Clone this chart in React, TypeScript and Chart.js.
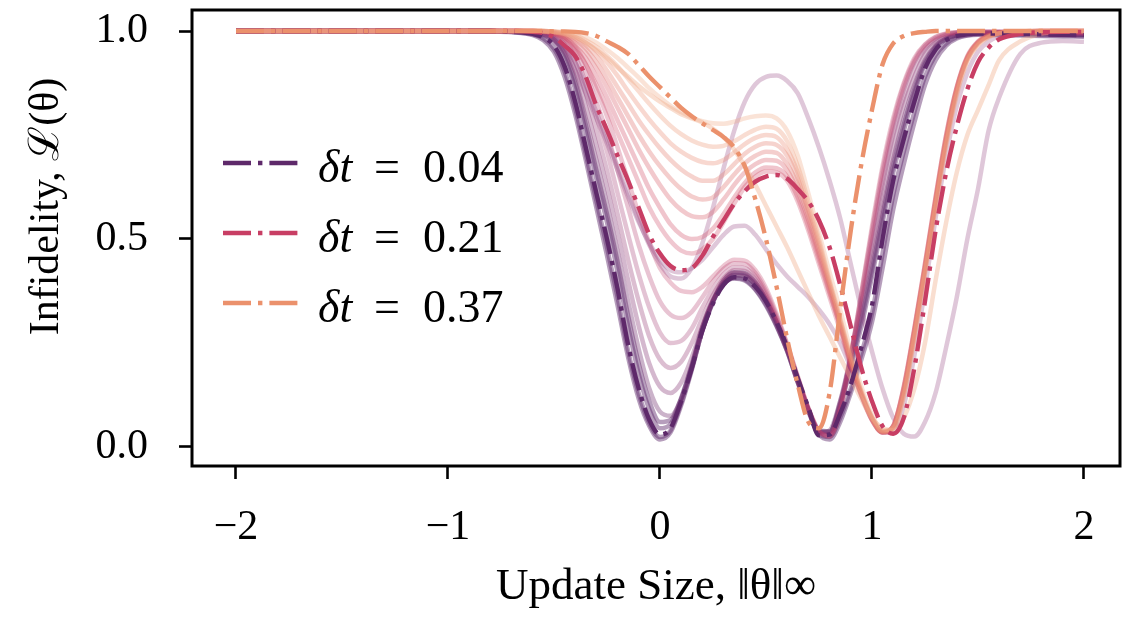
import React, { useEffect, useRef } from "react";
import { Chart, registerables } from "chart.js";

Chart.register(...registerables);

// x positions shared by every curve (Update Size)
const xGrid = [
  -2.0, -1.5, -1.0, -0.8, -0.7,
  -0.6, -0.55, -0.5, -0.45, -0.4, -0.35, -0.3, -0.25, -0.2, -0.15, -0.1, -0.05,
  0, 0.05, 0.1, 0.15, 0.2, 0.25, 0.3, 0.35, 0.4, 0.45, 0.5, 0.55,
  0.6, 0.65, 0.7, 0.75, 0.8, 0.85, 0.9, 0.95, 1.0, 1.05, 1.1, 1.15,
  1.2, 1.25, 1.3, 1.35, 1.4, 1.45, 1.5, 1.55, 1.6,
  1.7, 1.8, 1.9, 2.0,
];

const xTickValues = [-2, -1, 0, 1, 2];
const yTickValues = [0, 0.5, 1];
const legendDt = ["0.04", "0.21", "0.37"];

// highlighted dash-dot curves
const dt004 = [
  1, 1, 1, 1, 0.998,
  0.993, 0.985, 0.965, 0.915, 0.83, 0.72, 0.61, 0.5, 0.38, 0.245, 0.14, 0.065,
  0.03, 0.045, 0.11, 0.19, 0.28, 0.345, 0.39, 0.408, 0.405, 0.385, 0.35, 0.3,
  0.24, 0.165, 0.095, 0.028, 0.03, 0.08, 0.15, 0.24, 0.34, 0.5, 0.64, 0.74,
  0.83, 0.91, 0.955, 0.978, 0.988, 0.992, 0.994, 0.994, 0.994,
  0.993, 0.992, 0.991, 0.99,
];
const dt021 = [
  1, 1, 1, 1, 1,
  0.998, 0.995, 0.985, 0.965, 0.94, 0.89, 0.82, 0.762, 0.7, 0.64, 0.575, 0.51,
  0.465, 0.435, 0.425, 0.43, 0.46, 0.505, 0.545, 0.585, 0.615, 0.638, 0.65, 0.654,
  0.645, 0.62, 0.59, 0.545, 0.48, 0.39, 0.29, 0.19, 0.11, 0.05, 0.032, 0.07,
  0.19, 0.35, 0.52, 0.66, 0.77, 0.86, 0.925, 0.96, 0.98,
  0.993, 0.997, 0.998, 0.998,
];
const dt037 = [
  1, 1, 1, 1, 1,
  1, 1, 0.999, 0.999, 0.998, 0.995, 0.988, 0.975, 0.962, 0.945, 0.918, 0.89,
  0.865, 0.84, 0.815, 0.795, 0.778, 0.762, 0.745, 0.72, 0.675, 0.595, 0.5, 0.385,
  0.26, 0.15, 0.06, 0.045, 0.13, 0.33, 0.52, 0.68, 0.81, 0.92, 0.97, 0.988,
  0.995, 0.998, 1, 1, 1, 1, 1, 1, 1,
  1, 1, 1, 1,
];

// faded solid curves (other time steps)
const darkA = [
  1, 1, 1, 0.999, 0.997,
  0.99, 0.978, 0.95, 0.89, 0.8, 0.69, 0.575, 0.46, 0.34, 0.215, 0.115, 0.05,
  0.018, 0.035, 0.1, 0.185, 0.28, 0.35, 0.4, 0.42, 0.418, 0.395, 0.355, 0.3,
  0.235, 0.16, 0.088, 0.03, 0.018, 0.06, 0.13, 0.21, 0.3, 0.43, 0.57, 0.68,
  0.78, 0.87, 0.93, 0.965, 0.982, 0.989, 0.991, 0.991, 0.99,
  0.989, 0.988, 0.987, 0.986,
];
const darkC = [
  1, 1, 1, 1, 0.998,
  0.992, 0.982, 0.958, 0.903, 0.815, 0.705, 0.592, 0.48, 0.36, 0.23, 0.128, 0.057,
  0.024, 0.04, 0.105, 0.188, 0.28, 0.348, 0.395, 0.414, 0.412, 0.39, 0.352, 0.3,
  0.238, 0.162, 0.09, 0.03, 0.024, 0.07, 0.14, 0.225, 0.32, 0.465, 0.605, 0.71,
  0.805, 0.89, 0.942, 0.97, 0.985, 0.99, 0.992, 0.992, 0.992,
  0.991, 0.99, 0.989, 0.988,
];
const darkB = [
  1, 1, 1, 1, 0.999,
  0.996, 0.99, 0.975, 0.935, 0.86, 0.755, 0.645, 0.54, 0.42, 0.29, 0.175, 0.09,
  0.045, 0.055, 0.115, 0.195, 0.285, 0.35, 0.392, 0.405, 0.4, 0.378, 0.34, 0.29,
  0.23, 0.155, 0.09, 0.04, 0.038, 0.1, 0.19, 0.29, 0.41, 0.54, 0.66, 0.76,
  0.85, 0.92, 0.96, 0.98, 0.99, 0.994, 0.995, 0.995, 0.995,
  0.994, 0.993, 0.992, 0.991,
];
const darkD = [
  1, 1, 1, 1, 0.999,
  0.997, 0.992, 0.98, 0.945, 0.875, 0.775, 0.665, 0.56, 0.445, 0.315, 0.2, 0.11,
  0.06, 0.065, 0.118, 0.198, 0.288, 0.352, 0.393, 0.406, 0.402, 0.38, 0.343, 0.292,
  0.232, 0.157, 0.09, 0.038, 0.036, 0.105, 0.2, 0.305, 0.425, 0.555, 0.675, 0.775,
  0.86, 0.925, 0.963, 0.982, 0.991, 0.994, 0.995, 0.995, 0.995,
  0.994, 0.993, 0.992, 0.991,
];
const mauve1 = [
  1, 1, 1, 1, 0.999,
  0.997, 0.992, 0.98, 0.95, 0.885, 0.79, 0.69, 0.585, 0.47, 0.35, 0.235, 0.14,
  0.085, 0.075, 0.115, 0.19, 0.28, 0.35, 0.395, 0.412, 0.41, 0.39, 0.35, 0.295,
  0.23, 0.155, 0.085, 0.035, 0.04, 0.11, 0.21, 0.32, 0.44, 0.57, 0.69, 0.79,
  0.87, 0.93, 0.965, 0.982, 0.99, 0.994, 0.995, 0.995, 0.995,
  0.994, 0.993, 0.992, 0.992,
];
const mauve2 = [
  1, 1, 1, 1, 1,
  0.998, 0.994, 0.985, 0.96, 0.905, 0.82, 0.725, 0.625, 0.515, 0.4, 0.29, 0.2,
  0.145, 0.13, 0.155, 0.215, 0.29, 0.355, 0.4, 0.418, 0.415, 0.395, 0.355, 0.3,
  0.235, 0.16, 0.088, 0.035, 0.035, 0.11, 0.22, 0.34, 0.47, 0.6, 0.72, 0.82,
  0.89, 0.945, 0.972, 0.986, 0.992, 0.995, 0.996, 0.996, 0.996,
  0.995, 0.994, 0.993, 0.993,
];
const mauve3 = [
  1, 1, 1, 1, 1,
  0.999, 0.996, 0.988, 0.968, 0.925, 0.85, 0.76, 0.665, 0.56, 0.45, 0.35, 0.265,
  0.21, 0.19, 0.205, 0.25, 0.31, 0.365, 0.405, 0.425, 0.423, 0.402, 0.362, 0.305,
  0.238, 0.162, 0.09, 0.036, 0.03, 0.1, 0.22, 0.35, 0.49, 0.63, 0.75, 0.84,
  0.91, 0.955, 0.978, 0.99, 0.995, 0.997, 0.997, 0.997, 0.997,
  0.996, 0.995, 0.994, 0.994,
];
const mauve4 = [
  1, 1, 1, 1, 1,
  0.999, 0.997, 0.99, 0.975, 0.94, 0.875, 0.795, 0.71, 0.61, 0.51, 0.415, 0.335,
  0.275, 0.25, 0.255, 0.285, 0.335, 0.38, 0.415, 0.432, 0.43, 0.41, 0.368, 0.31,
  0.242, 0.165, 0.092, 0.037, 0.028, 0.095, 0.22, 0.36, 0.51, 0.65, 0.77, 0.86,
  0.925, 0.962, 0.982, 0.992, 0.996, 0.997, 0.998, 0.998, 0.998,
  0.997, 0.996, 0.995, 0.995,
];
const mauve5 = [
  1, 1, 1, 1, 1,
  1, 0.998, 0.993, 0.98, 0.952, 0.9, 0.83, 0.755, 0.665, 0.575, 0.485, 0.41,
  0.35, 0.318, 0.31, 0.325, 0.36, 0.398, 0.428, 0.442, 0.44, 0.418, 0.375, 0.315,
  0.245, 0.168, 0.093, 0.038, 0.026, 0.09, 0.22, 0.37, 0.52, 0.665, 0.78, 0.87,
  0.93, 0.966, 0.985, 0.993, 0.997, 0.998, 0.998, 0.998, 0.998,
  0.997, 0.996, 0.995, 0.995,
];
const mauve6 = [
  1, 1, 1, 1, 1,
  1, 0.998, 0.994, 0.984, 0.962, 0.92, 0.86, 0.795, 0.72, 0.64, 0.56, 0.49,
  0.43, 0.395, 0.375, 0.372, 0.385, 0.41, 0.435, 0.45, 0.448, 0.425, 0.382, 0.32,
  0.248, 0.17, 0.094, 0.038, 0.025, 0.085, 0.215, 0.37, 0.53, 0.675, 0.79, 0.875,
  0.935, 0.968, 0.986, 0.994, 0.997, 0.998, 0.998, 0.998, 0.998,
  0.997, 0.996, 0.995, 0.995,
];
const purpleLow = [
  1, 1, 1, 1, 1,
  0.998, 0.992, 0.978, 0.95, 0.905, 0.85, 0.79, 0.73, 0.665, 0.6, 0.54, 0.49,
  0.45, 0.425, 0.42, 0.43, 0.45, 0.48, 0.51, 0.53, 0.532, 0.51, 0.475, 0.44,
  0.41, 0.385, 0.36, 0.33, 0.295, 0.25, 0.19, 0.125, 0.07, 0.035, 0.035, 0.1,
  0.22, 0.38, 0.55, 0.7, 0.82, 0.9, 0.95, 0.975, 0.988,
  0.996, 0.998, 0.998, 0.998,
];
const purpleHigh = [
  1, 1, 1, 1, 0.999,
  0.998, 0.994, 0.983, 0.96, 0.925, 0.87, 0.805, 0.74, 0.675, 0.61, 0.545, 0.485,
  0.44, 0.41, 0.405, 0.43, 0.49, 0.575, 0.67, 0.76, 0.83, 0.872, 0.89, 0.893,
  0.88, 0.85, 0.79, 0.72, 0.64, 0.55, 0.44, 0.33, 0.23, 0.14, 0.07, 0.032,
  0.025, 0.06, 0.13, 0.24, 0.36, 0.5, 0.62, 0.76, 0.84,
  0.945, 0.972, 0.976, 0.974,
];
const light0 = [
  1, 1, 1, 1, 1,
  1, 0.998, 0.993, 0.98, 0.957, 0.92, 0.87, 0.815, 0.755, 0.695, 0.635, 0.575,
  0.53, 0.495, 0.472, 0.465, 0.475, 0.5, 0.54, 0.585, 0.625, 0.65, 0.662, 0.66,
  0.64, 0.59, 0.52, 0.44, 0.36, 0.28, 0.195, 0.122, 0.064, 0.035, 0.05, 0.145,
  0.285, 0.44, 0.6, 0.75, 0.865, 0.938, 0.974, 0.989, 0.996,
  0.999, 1, 1, 1,
];
const light1 = [
  1, 1, 1, 1, 1,
  1, 0.999, 0.995, 0.985, 0.965, 0.935, 0.89, 0.84, 0.785, 0.73, 0.675, 0.62,
  0.575, 0.535, 0.51, 0.5, 0.505, 0.525, 0.56, 0.6, 0.635, 0.66, 0.672, 0.67,
  0.65, 0.6, 0.53, 0.45, 0.37, 0.29, 0.2, 0.125, 0.065, 0.035, 0.05, 0.14,
  0.28, 0.43, 0.59, 0.74, 0.86, 0.935, 0.972, 0.988, 0.995,
  0.999, 1, 1, 1,
];
const light2 = [
  1, 1, 1, 1, 1,
  1, 0.999, 0.996, 0.988, 0.972, 0.948, 0.91, 0.865, 0.815, 0.765, 0.715, 0.67,
  0.63, 0.595, 0.57, 0.555, 0.552, 0.565, 0.595, 0.63, 0.66, 0.68, 0.69, 0.688,
  0.665, 0.615, 0.545, 0.46, 0.375, 0.29, 0.2, 0.125, 0.065, 0.035, 0.05, 0.145,
  0.285, 0.44, 0.6, 0.75, 0.865, 0.94, 0.975, 0.99, 0.996,
  0.999, 1, 1, 1,
];
const light3 = [
  1, 1, 1, 1, 1,
  1, 0.999, 0.997, 0.99, 0.978, 0.958, 0.925, 0.885, 0.84, 0.795, 0.75, 0.71,
  0.675, 0.645, 0.62, 0.602, 0.595, 0.6, 0.625, 0.655, 0.682, 0.7, 0.71, 0.707,
  0.68, 0.63, 0.555, 0.47, 0.385, 0.295, 0.205, 0.128, 0.067, 0.036, 0.05, 0.14,
  0.28, 0.435, 0.595, 0.745, 0.862, 0.937, 0.973, 0.989, 0.996,
  0.999, 1, 1, 1,
];
const light4 = [
  1, 1, 1, 1, 1,
  1, 1, 0.998, 0.992, 0.982, 0.965, 0.94, 0.905, 0.865, 0.825, 0.785, 0.75,
  0.718, 0.69, 0.667, 0.65, 0.64, 0.64, 0.655, 0.68, 0.705, 0.722, 0.73, 0.726,
  0.7, 0.645, 0.565, 0.48, 0.39, 0.3, 0.21, 0.13, 0.068, 0.036, 0.048, 0.135,
  0.275, 0.43, 0.59, 0.74, 0.86, 0.935, 0.972, 0.988, 0.995,
  0.999, 1, 1, 1,
];
const light5 = [
  1, 1, 1, 1, 1,
  1, 1, 0.998, 0.994, 0.986, 0.972, 0.952, 0.925, 0.892, 0.855, 0.82, 0.787,
  0.757, 0.73, 0.71, 0.695, 0.685, 0.682, 0.69, 0.708, 0.728, 0.743, 0.75, 0.745,
  0.715, 0.66, 0.575, 0.49, 0.395, 0.305, 0.212, 0.132, 0.07, 0.037, 0.046, 0.13,
  0.27, 0.425, 0.585, 0.735, 0.855, 0.932, 0.97, 0.987, 0.995,
  0.999, 1, 1, 1,
];
const light6 = [
  1, 1, 1, 1, 1,
  1, 1, 0.999, 0.996, 0.99, 0.978, 0.962, 0.94, 0.915, 0.885, 0.855, 0.825,
  0.797, 0.772, 0.752, 0.737, 0.727, 0.722, 0.724, 0.735, 0.75, 0.763, 0.77, 0.765,
  0.735, 0.675, 0.59, 0.5, 0.4, 0.31, 0.215, 0.135, 0.072, 0.038, 0.045, 0.125,
  0.265, 0.42, 0.58, 0.73, 0.85, 0.93, 0.968, 0.986, 0.994,
  0.999, 1, 1, 1,
];
const light7 = [
  1, 1, 1, 1, 1,
  1, 1, 0.999, 0.997, 0.993, 0.985, 0.972, 0.955, 0.935, 0.912, 0.888, 0.862,
  0.84, 0.82, 0.805, 0.792, 0.783, 0.778, 0.777, 0.782, 0.79, 0.795, 0.797, 0.79,
  0.76, 0.7, 0.61, 0.515, 0.42, 0.33, 0.23, 0.145, 0.078, 0.04, 0.045, 0.12,
  0.26, 0.415, 0.575, 0.725, 0.845, 0.928, 0.966, 0.985, 0.994,
  0.999, 1, 1, 1,
];
const peach = [
  1, 1, 1, 1, 1,
  1, 0.999, 0.997, 0.993, 0.985, 0.972, 0.955, 0.935, 0.912, 0.89, 0.868, 0.848,
  0.83, 0.815, 0.8, 0.79, 0.78, 0.765, 0.745, 0.715, 0.675, 0.63, 0.58, 0.53,
  0.48, 0.425, 0.37, 0.315, 0.265, 0.215, 0.165, 0.115, 0.07, 0.045, 0.04, 0.07,
  0.14, 0.25, 0.4, 0.54, 0.66, 0.75, 0.81, 0.87, 0.93,
  0.975, 0.993, 0.998, 1,
];

const FONT = '"Liberation Serif", "Times New Roman", serif';

const toPoints = (ys: number[]) => xGrid.map((x, i) => ({ x, y: ys[i] }));

// drawOrder: lower values are painted on top (largest time step uppermost)
const highlighted = [
  { ys: dt004, color: "rgb(94,41,106)", label: legendDt[0], drawOrder: -1 },
  { ys: dt021, color: "rgb(200,62,100)", label: legendDt[1], drawOrder: -2 },
  { ys: dt037, color: "rgb(235,145,108)", label: legendDt[2], drawOrder: -3 },
];

const faded = [
  { ys: light7, color: "rgba(238,168,130,0.32)" },
  { ys: peach, color: "rgba(240,172,138,0.4)" },
  { ys: light6, color: "rgba(236,150,116,0.32)" },
  { ys: light5, color: "rgba(233,134,108,0.32)" },
  { ys: light4, color: "rgba(228,118,104,0.32)" },
  { ys: light3, color: "rgba(222,104,100,0.32)" },
  { ys: light2, color: "rgba(215,88,98,0.32)" },
  { ys: light1, color: "rgba(208,74,98,0.32)" },
  { ys: light0, color: "rgba(204,70,100,0.3)" },
  { ys: purpleHigh, color: "rgba(150,70,130,0.3)" },
  { ys: purpleLow, color: "rgba(150,70,130,0.3)" },
  { ys: mauve6, color: "rgba(196,66,105,0.3)" },
  { ys: mauve5, color: "rgba(180,60,110,0.3)" },
  { ys: mauve4, color: "rgba(163,56,112,0.3)" },
  { ys: mauve3, color: "rgba(145,52,113,0.32)" },
  { ys: mauve2, color: "rgba(128,47,112,0.34)" },
  { ys: mauve1, color: "rgba(110,43,108,0.36)" },
  { ys: darkD, color: "rgba(94,41,106,0.45)" },
  { ys: darkB, color: "rgba(94,41,106,0.45)" },
  { ys: darkC, color: "rgba(94,41,106,0.45)" },
  { ys: darkA, color: "rgba(94,41,106,0.45)" },
];

const spinePlugin = {
  id: "spines",
  afterDatasetsDraw(chart: any) {
    const { ctx, chartArea: a } = chart;
    ctx.save();
    ctx.strokeStyle = "#000";
    ctx.lineWidth = 3;
    ctx.setLineDash([]);
    ctx.strokeRect(a.left, a.top, a.right - a.left, a.bottom - a.top);
    ctx.restore();
  },
};

const legendPlugin = {
  id: "dtLegend",
  afterDraw(chart: any) {
    const { ctx, chartArea: a } = chart;
    const entries = chart.data.datasets.filter((d: any) => d.dtLabel);
    ctx.save();
    entries.forEach((d: any, i: number) => {
      const y = a.top + 153 + i * 70;
      ctx.strokeStyle = d.borderColor;
      ctx.lineWidth = 4.4;
      ctx.lineCap = "butt";
      ctx.setLineDash([28, 7, 4.4, 7]);
      ctx.beginPath();
      ctx.moveTo(a.left + 31, y);
      ctx.lineTo(a.left + 106, y);
      ctx.stroke();
      ctx.setLineDash([]);
      ctx.fillStyle = "#000";
      ctx.textBaseline = "alphabetic";
      ctx.textAlign = "left";
      ctx.font = `italic 46px ${FONT}`;
      ctx.fillText("\u03b4t", a.left + 126, y + 19);
      ctx.font = `46px ${FONT}`;
      ctx.fillText("=", a.left + 182, y + 19);
      ctx.fillText(d.dtLabel, a.left + 231, y + 19);
    });
    ctx.restore();
  },
};

export default function App() {
  const canvasRef = useRef<HTMLCanvasElement | null>(null);

  useEffect(() => {
    if (!canvasRef.current) return;
    const datasets: any[] = [];
    highlighted.forEach((h) => {
      datasets.push({
        data: toPoints(h.ys),
        borderColor: h.color,
        borderWidth: 4.4,
        borderDash: [28, 7, 4.4, 7],
        borderCapStyle: "butt",
        pointRadius: 0,
        fill: false,
        cubicInterpolationMode: "monotone",
        order: h.drawOrder,
        dtLabel: h.label,
      });
    });
    faded.forEach((f, i) => {
      datasets.push({
        data: toPoints(f.ys),
        borderColor: f.color,
        borderWidth: 4.5,
        pointRadius: 0,
        fill: false,
        cubicInterpolationMode: "monotone",
        order: 1 + i,
      });
    });

    const chart = new Chart(canvasRef.current, {
      type: "line",
      data: { datasets },
      options: {
        responsive: false,
        animation: false,
        layout: { padding: { top: 10, right: 5, left: 0, bottom: 0 } },
        plugins: {
          legend: { display: false },
          tooltip: { enabled: false },
        },
        scales: {
          x: {
            type: "linear",
            min: -2.2075,
            max: 2.17,
            afterBuildTicks: (s: any) => {
              s.ticks = xTickValues.map((v) => ({ value: v }));
            },
            afterFit: (s: any) => {
              s.height = 157;
              s.paddingLeft = 0;
              s.paddingRight = 0;
            },
            border: { display: false },
            grid: {
              drawOnChartArea: false,
              drawTicks: true,
              tickLength: 13,
              tickWidth: 2.6,
              tickColor: "#000",
            },
            ticks: {
              color: "#000",
              padding: 24,
              maxRotation: 0,
              autoSkip: false,
              font: { family: FONT, size: 42 },
              callback: (v: any) => (Number(v) < 0 ? "\u2212" + Math.abs(Number(v)) : String(v)),
            },
            title: {
              display: true,
              text: "Update Size, \u2016\u03b8\u2016\u221e",
              color: "#000",
              font: { family: FONT, size: 45 },
              padding: { top: 0, bottom: 9 },
            },
          },
          y: {
            type: "linear",
            min: -0.0457,
            max: 1.0505,
            afterBuildTicks: (s: any) => {
              s.ticks = yTickValues.map((v) => ({ value: v }));
            },
            afterFit: (s: any) => {
              s.width = 192;
              s.paddingTop = 0;
              s.paddingBottom = 0;
            },
            border: { display: false },
            grid: {
              drawOnChartArea: false,
              drawTicks: true,
              tickLength: 13,
              tickWidth: 2.6,
              tickColor: "#000",
            },
            ticks: {
              color: "#000",
              padding: 31,
              autoSkip: false,
              font: { family: FONT, size: 42 },
              callback: (v: any) => Number(v).toFixed(1),
            },
            title: {
              display: true,
              text: "      Infidelity, \u2112(\u03b8)",
              color: "#000",
              font: { family: FONT, size: 42 },
              padding: { top: 22, bottom: 0 },
            },
          },
        },
      } as any,
      plugins: [spinePlugin, legendPlugin],
    });
    return () => chart.destroy();
  }, []);

  return (
    <div style={{ position: "absolute", left: 0, top: 0, width: 1125, height: 623, background: "#fff" }}>
      <canvas ref={canvasRef} width={1125} height={623} />
    </div>
  );
}
